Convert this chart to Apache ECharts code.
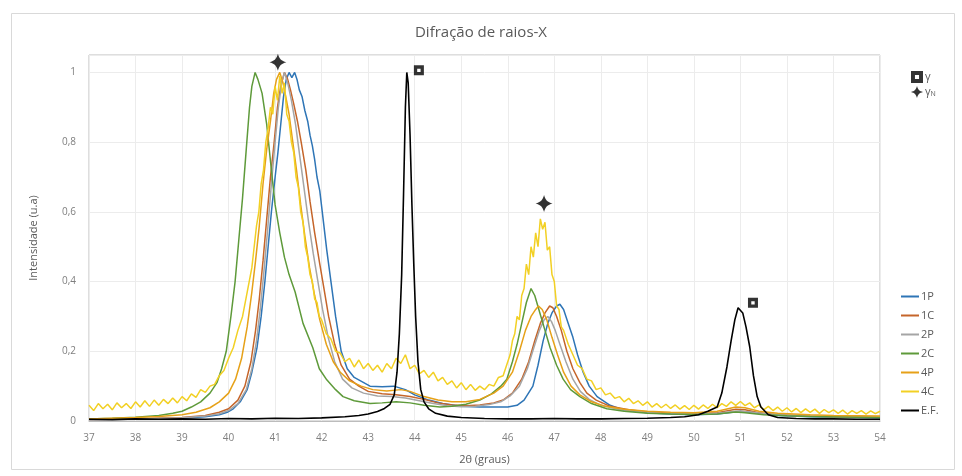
<!DOCTYPE html>
<html>
<head>
<meta charset="utf-8">
<script src="https://cdn.jsdelivr.net/npm/echarts@6/dist/echarts.min.js"></script>
<style>html,body{margin:0;padding:0;background:#fff}#c{width:962px;height:476px}</style>
</head>
<body>
<div id="c"></div>
<script>
const titleText = 'Difração de raios-X';
const xName = '2θ (graus)';
const yName = 'Intensidade (u.a)';
const seriesNames = ['1P', '1C', '2P', '2C', '4P', '4C', 'E.F.'];
const seriesColors = ['#2E75B6', '#C5652A', '#A5A5A5', '#5E9A3A', '#E6A118', '#F2D024', '#000000'];

const s1P = [[37,0.004],[37.5,0.005],[38,0.006],[38.5,0.007],[39,0.008],[39.5,0.012],[39.8,0.018],[39.97,0.025],[40.1,0.035],[40.25,0.055],[40.4,0.09],[40.5,0.14],[40.61,0.21],[40.7,0.3],[40.78,0.4],[40.85,0.5],[40.92,0.6],[41.0,0.7],[41.06,0.77],[41.12,0.85],[41.18,0.93],[41.24,0.98],[41.3,1.0],[41.36,0.985],[41.42,1.0],[41.47,0.98],[41.52,0.95],[41.58,0.93],[41.64,0.89],[41.7,0.86],[41.75,0.82],[41.8,0.79],[41.85,0.75],[41.9,0.7],[41.96,0.66],[42.04,0.57],[42.11,0.49],[42.2,0.4],[42.3,0.3],[42.42,0.2],[42.55,0.15],[42.7,0.125],[43.04,0.1],[43.3,0.098],[43.55,0.1],[43.8,0.09],[44.0,0.075],[44.3,0.06],[44.6,0.05],[45.0,0.042],[45.4,0.04],[45.8,0.04],[46.0,0.04],[46.2,0.045],[46.35,0.06],[46.54,0.1],[46.65,0.16],[46.76,0.23],[46.86,0.28],[46.95,0.31],[47.05,0.33],[47.12,0.335],[47.2,0.32],[47.3,0.28],[47.4,0.24],[47.5,0.19],[47.62,0.14],[47.75,0.1],[47.92,0.07],[48.2,0.045],[48.48,0.032],[49,0.024],[49.5,0.02],[50,0.018],[50.5,0.02],[51,0.028],[51.3,0.024],[51.8,0.016],[52.5,0.012],[53,0.011],[54,0.009]];

const s1C = [[37,0.004],[37.5,0.005],[38,0.006],[38.5,0.008],[39,0.01],[39.5,0.016],[39.8,0.025],[40.0,0.035],[40.2,0.06],[40.35,0.1],[40.48,0.17],[40.58,0.26],[40.66,0.35],[40.74,0.46],[40.82,0.58],[40.9,0.7],[40.98,0.8],[41.05,0.9],[41.12,0.96],[41.2,1.0],[41.27,0.98],[41.33,0.95],[41.4,0.91],[41.48,0.86],[41.56,0.8],[41.66,0.72],[41.75,0.63],[41.85,0.54],[41.96,0.45],[42.05,0.38],[42.15,0.3],[42.28,0.22],[42.42,0.16],[42.6,0.12],[42.8,0.1],[43.0,0.085],[43.3,0.078],[43.6,0.075],[43.9,0.07],[44.2,0.062],[44.5,0.052],[44.8,0.046],[45.1,0.044],[45.4,0.046],[45.7,0.052],[45.9,0.06],[46.1,0.08],[46.3,0.12],[46.45,0.17],[46.58,0.23],[46.7,0.28],[46.8,0.31],[46.9,0.33],[46.97,0.325],[47.05,0.3],[47.15,0.26],[47.27,0.2],[47.4,0.15],[47.55,0.11],[47.7,0.08],[47.9,0.06],[48.2,0.042],[48.6,0.032],[49,0.026],[49.5,0.022],[50,0.021],[50.5,0.024],[50.9,0.034],[51.1,0.032],[51.4,0.024],[51.8,0.018],[52.5,0.014],[53,0.012],[54,0.011]];

const s2P = [[37,0.004],[37.5,0.005],[38,0.006],[38.5,0.007],[39,0.009],[39.5,0.014],[39.8,0.021],[40.0,0.03],[40.2,0.05],[40.38,0.09],[40.5,0.15],[40.6,0.23],[40.68,0.32],[40.76,0.43],[40.84,0.55],[40.92,0.68],[41.0,0.8],[41.07,0.9],[41.14,0.97],[41.2,1.0],[41.27,0.97],[41.35,0.92],[41.44,0.85],[41.52,0.77],[41.62,0.67],[41.72,0.57],[41.82,0.48],[41.92,0.4],[42.02,0.32],[42.14,0.24],[42.28,0.17],[42.45,0.12],[42.65,0.095],[42.9,0.08],[43.2,0.072],[43.5,0.07],[43.8,0.066],[44.1,0.058],[44.4,0.05],[44.7,0.044],[45.0,0.041],[45.3,0.042],[45.6,0.047],[45.85,0.055],[46.05,0.072],[46.25,0.1],[46.42,0.15],[46.56,0.21],[46.68,0.26],[46.78,0.29],[46.86,0.3],[46.94,0.285],[47.02,0.26],[47.12,0.22],[47.25,0.17],[47.4,0.12],[47.56,0.085],[47.75,0.062],[48.0,0.045],[48.4,0.033],[48.8,0.027],[49.3,0.022],[50,0.02],[50.5,0.022],[50.9,0.028],[51.2,0.026],[51.6,0.02],[52.2,0.015],[53,0.012],[54,0.01]];

const s2C = [[37,0.006],[37.5,0.008],[38,0.011],[38.5,0.016],[38.8,0.022],[39.0,0.028],[39.2,0.04],[39.4,0.055],[39.6,0.08],[39.75,0.11],[39.85,0.15],[39.95,0.2],[40.05,0.3],[40.14,0.4],[40.22,0.52],[40.3,0.64],[40.38,0.78],[40.45,0.9],[40.5,0.96],[40.57,1.0],[40.63,0.98],[40.72,0.94],[40.82,0.85],[40.92,0.72],[41.0,0.62],[41.1,0.54],[41.2,0.47],[41.3,0.42],[41.43,0.37],[41.6,0.28],[41.81,0.21],[41.95,0.15],[42.11,0.118],[42.3,0.09],[42.46,0.07],[42.7,0.058],[43.04,0.05],[43.3,0.052],[43.6,0.055],[43.9,0.052],[44.2,0.045],[44.54,0.04],[44.8,0.042],[45.1,0.048],[45.4,0.06],[45.65,0.078],[45.85,0.1],[45.98,0.12],[46.1,0.17],[46.2,0.22],[46.3,0.28],[46.4,0.34],[46.5,0.38],[46.58,0.36],[46.69,0.31],[46.8,0.26],[46.91,0.21],[47.05,0.16],[47.19,0.12],[47.35,0.09],[47.55,0.07],[47.8,0.05],[48.13,0.035],[48.5,0.028],[49,0.022],[49.5,0.02],[50,0.019],[50.5,0.02],[50.9,0.026],[51.1,0.024],[51.5,0.018],[52,0.015],[52.5,0.013],[53,0.012],[53.5,0.011],[54,0.01]];

const s4P = [[37,0.006],[37.5,0.008],[38,0.01],[38.5,0.013],[39,0.018],[39.3,0.025],[39.6,0.038],[39.8,0.055],[40.0,0.08],[40.15,0.12],[40.28,0.18],[40.4,0.27],[40.5,0.37],[40.58,0.46],[40.66,0.56],[40.74,0.68],[40.82,0.78],[40.9,0.86],[40.97,0.94],[41.03,0.98],[41.1,1.0],[41.17,0.97],[41.23,0.93],[41.3,0.88],[41.38,0.8],[41.46,0.72],[41.55,0.62],[41.64,0.53],[41.74,0.44],[41.85,0.36],[41.96,0.29],[42.1,0.22],[42.25,0.17],[42.4,0.14],[42.6,0.115],[42.85,0.1],[43.1,0.09],[43.4,0.086],[43.7,0.09],[43.9,0.085],[44.2,0.07],[44.5,0.06],[44.8,0.055],[45.1,0.055],[45.4,0.062],[45.7,0.08],[45.9,0.1],[46.1,0.14],[46.25,0.2],[46.38,0.26],[46.5,0.3],[46.6,0.32],[46.66,0.33],[46.74,0.32],[46.84,0.29],[46.95,0.24],[47.07,0.19],[47.2,0.14],[47.36,0.1],[47.55,0.075],[47.8,0.055],[48.1,0.042],[48.5,0.034],[49,0.028],[49.5,0.025],[50,0.024],[50.5,0.028],[50.9,0.04],[51.1,0.038],[51.4,0.028],[51.8,0.022],[52.5,0.018],[53,0.016],[54,0.014]];

const s4C = [[37.0,0.045],[37.1,0.03],[37.2,0.05],[37.3,0.035],[37.4,0.048],[37.5,0.032],[37.6,0.052],[37.7,0.038],[37.8,0.05],[37.9,0.036],[38.0,0.055],[38.1,0.04],[38.2,0.058],[38.3,0.042],[38.4,0.06],[38.5,0.045],[38.6,0.062],[38.7,0.05],[38.8,0.066],[38.9,0.052],[39.0,0.07],[39.1,0.058],[39.2,0.078],[39.3,0.068],[39.4,0.09],[39.5,0.082],[39.6,0.1],[39.7,0.105],[39.8,0.13],[39.9,0.145],[40.0,0.18],[40.1,0.21],[40.2,0.26],[40.3,0.3],[40.4,0.37],[40.5,0.44],[40.55,0.5],[40.6,0.56],[40.65,0.6],[40.7,0.68],[40.75,0.72],[40.8,0.8],[40.85,0.84],[40.9,0.9],[40.95,0.88],[41.0,0.96],[41.05,0.92],[41.1,0.99],[41.15,0.94],[41.2,0.97],[41.25,0.88],[41.3,0.86],[41.35,0.8],[41.4,0.77],[41.45,0.7],[41.5,0.67],[41.55,0.6],[41.6,0.57],[41.65,0.5],[41.7,0.47],[41.75,0.42],[41.8,0.4],[41.85,0.35],[41.9,0.34],[41.95,0.3],[42.0,0.29],[42.1,0.25],[42.2,0.235],[42.3,0.2],[42.4,0.195],[42.5,0.17],[42.6,0.18],[42.7,0.155],[42.8,0.175],[42.9,0.15],[43.0,0.165],[43.1,0.145],[43.2,0.16],[43.3,0.14],[43.4,0.165],[43.5,0.15],[43.6,0.18],[43.7,0.165],[43.8,0.19],[43.9,0.15],[44.0,0.16],[44.1,0.135],[44.2,0.145],[44.3,0.125],[44.4,0.14],[44.5,0.115],[44.6,0.125],[44.7,0.105],[44.8,0.115],[44.9,0.095],[45.0,0.11],[45.1,0.09],[45.2,0.105],[45.3,0.088],[45.4,0.1],[45.5,0.09],[45.6,0.105],[45.7,0.1],[45.8,0.125],[45.9,0.13],[46.0,0.17],[46.05,0.19],[46.1,0.23],[46.15,0.25],[46.2,0.3],[46.25,0.29],[46.3,0.36],[46.35,0.38],[46.4,0.45],[46.45,0.42],[46.5,0.5],[46.55,0.47],[46.6,0.54],[46.65,0.5],[46.7,0.58],[46.75,0.55],[46.8,0.57],[46.85,0.49],[46.9,0.5],[46.95,0.42],[47.0,0.4],[47.05,0.33],[47.1,0.32],[47.15,0.27],[47.2,0.26],[47.3,0.22],[47.4,0.19],[47.5,0.16],[47.6,0.15],[47.7,0.12],[47.8,0.115],[47.9,0.09],[48.0,0.095],[48.1,0.075],[48.2,0.08],[48.3,0.065],[48.4,0.07],[48.5,0.055],[48.6,0.065],[48.7,0.05],[48.8,0.058],[48.9,0.045],[49.0,0.055],[49.1,0.04],[49.2,0.05],[49.3,0.038],[49.4,0.048],[49.5,0.036],[49.6,0.046],[49.7,0.034],[49.8,0.044],[49.9,0.033],[50.0,0.045],[50.1,0.034],[50.2,0.046],[50.3,0.036],[50.4,0.048],[50.5,0.038],[50.6,0.05],[50.7,0.042],[50.8,0.055],[50.9,0.045],[51.0,0.056],[51.1,0.044],[51.2,0.052],[51.3,0.038],[51.4,0.046],[51.5,0.032],[51.6,0.042],[51.7,0.03],[51.8,0.04],[51.9,0.028],[52.0,0.038],[52.1,0.026],[52.2,0.036],[52.3,0.024],[52.4,0.035],[52.5,0.025],[52.6,0.034],[52.7,0.022],[52.8,0.033],[52.9,0.024],[53.0,0.032],[53.1,0.022],[53.2,0.031],[53.3,0.02],[53.4,0.03],[53.5,0.022],[53.6,0.03],[53.7,0.02],[53.8,0.029],[53.9,0.021],[54.0,0.028]];

const sEF = [[37,0.005],[37.5,0.004],[38,0.006],[38.5,0.005],[39,0.006],[39.5,0.005],[40,0.007],[40.5,0.006],[41,0.008],[41.5,0.007],[42,0.009],[42.5,0.012],[42.8,0.016],[43.0,0.02],[43.2,0.027],[43.35,0.036],[43.47,0.048],[43.56,0.075],[43.62,0.14],[43.67,0.25],[43.72,0.42],[43.76,0.65],[43.8,0.9],[43.83,1.0],[43.86,0.97],[43.9,0.82],[43.94,0.62],[43.98,0.45],[44.02,0.3],[44.07,0.17],[44.13,0.09],[44.2,0.055],[44.3,0.035],[44.45,0.022],[44.7,0.014],[45,0.01],[45.5,0.007],[46,0.006],[46.5,0.006],[47,0.007],[47.5,0.006],[48,0.006],[48.5,0.007],[49,0.008],[49.5,0.01],[49.8,0.012],[50.1,0.018],[50.3,0.028],[50.5,0.04],[50.6,0.08],[50.71,0.155],[50.8,0.23],[50.88,0.29],[50.95,0.325],[50.99,0.33],[51.05,0.31],[51.12,0.27],[51.2,0.213],[51.28,0.13],[51.36,0.07],[51.44,0.04],[51.6,0.018],[51.8,0.01],[52.2,0.007],[52.6,0.006],[53,0.006],[53.5,0.005],[54,0.005]];

const gammaPts = [[44.09, 1.006], [51.27, 0.339]];
const gammaNPts = [[41.06, 1.029], [46.78, 0.624]];

const lineData = [s1P, s1C, s2P, s2C, s4P, s4C, sEF];
const squarePath = 'path://M0,0 L10,0 L10,10 L0,10 Z M3.3,3.3 L3.3,6.7 L6.7,6.7 L6.7,3.3 Z';
const starPath = 'path://M0,-10 C1.6,-4 4,-1.6 10,0 C4,1.6 1.6,4 0,10 C-1.6,4 -4,1.6 -10,0 C-4,-1.6 -1.6,-4 0,-10 Z';

const chart = echarts.init(document.getElementById('c'), null, {renderer: 'canvas'});
const FONT = 'Open Sans';

const lineSeries = seriesNames.map((n, i) => ({
  name: n, type: 'line', data: lineData[i], showSymbol: false, symbol: 'none',
  lineStyle: {color: seriesColors[i], width: i === 6 ? 1.6 : 1.5},
  itemStyle: {color: seriesColors[i]}, animation: false, z: 2 + i
}));

chart.setOption({
  animation: false,
  textStyle: {fontFamily: FONT},
  title: {text: titleText, left: 'center', top: 20,
    textStyle: {fontSize: 15, fontWeight: 'normal', color: '#595959', fontFamily: FONT}},
  graphic: [
    {type: 'rect', shape: {x: 11.5, y: 13.5, width: 943, height: 456},
     style: {fill: 'none', stroke: '#d9d9d9', lineWidth: 1}, silent: true, z: -1}
  ],
  grid: {left: 89, right: 82, top: 55, bottom: 55, show: true, borderColor: '#bcbcbc', borderWidth: 1},
  legend: [
    {data: ['γ', 'γN'], orient: 'vertical', left: 906, top: 66, itemGap: 3, itemWidth: 12, itemHeight: 12,
     formatter: n => n === 'γN' ? '{a|γ}{b|N}' : '{a|γ}',
     textStyle: {fontSize: 11, color: '#595959', fontFamily: FONT, padding: [0, 0, 0, -3],
       rich: {a: {fontSize: 11, color: '#595959'}, b: {fontSize: 7, color: '#595959', padding: [4, 0, 0, 0]}}}},
    {data: seriesNames, orient: 'vertical', left: 896, top: 286, itemGap: 8, itemWidth: 18, itemHeight: 2,
     icon: 'rect', textStyle: {fontSize: 11, color: '#595959', fontFamily: FONT, padding: [0, 0, 0, -3]}}
  ],
  xAxis: {
    type: 'value', min: 37, max: 54, interval: 1,
    name: xName, nameLocation: 'middle', nameGap: 33,
    nameTextStyle: {fontSize: 11, color: '#595959'},
    axisLine: {show: true, lineStyle: {color: '#bcbcbc'}},
    axisTick: {show: false},
    axisLabel: {fontSize: 10, color: '#7f7f7f', margin: 12},
    splitLine: {show: true, lineStyle: {color: '#ececec', width: 1}}
  },
  yAxis: {
    type: 'value', min: 0, max: 1.05, interval: 0.2,
    name: yName, nameLocation: 'middle', nameGap: 50, nameRotate: 90,
    nameTextStyle: {fontSize: 11, color: '#595959'},
    axisLine: {show: false}, axisTick: {show: false},
    axisLabel: {fontSize: 10, color: '#7f7f7f', margin: 13, showMaxLabel: false,
      formatter: v => String(Math.round(v * 10) / 10).replace('.', ',')},
    splitLine: {show: true, lineStyle: {color: '#ececec', width: 1}}
  },
  series: lineSeries.concat([
    {name: 'γ', type: 'scatter', data: gammaPts, symbol: squarePath, symbolSize: 10,
     itemStyle: {color: '#000000'}, z: 20},
    {name: 'γN', type: 'scatter', data: gammaNPts, symbol: starPath, symbolSize: 17,
     itemStyle: {color: '#000000'}, z: 20}
  ])
});
</script>
</body>
</html>
